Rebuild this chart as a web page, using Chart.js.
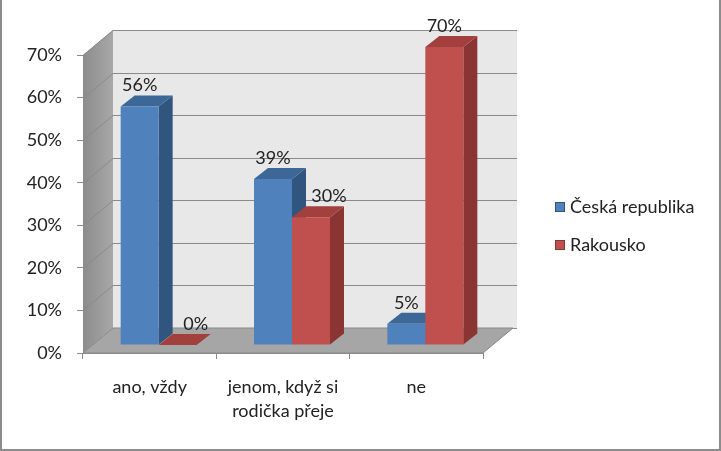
<!DOCTYPE html>
<html>
<head>
<meta charset="utf-8">
<script src="https://cdn.jsdelivr.net/npm/chart.js@4"></script>
<style>
  html, body { margin: 0; padding: 0; background: #fff; }
  #wrap { width: 721px; height: 451px; position: relative; }
</style>
</head>
<body>
<div id="wrap"><canvas id="bar-chart" width="721" height="451"></canvas></div>
<script>
// data
const categories = ["ano, vždy", ["jenom, když si", "rodička přeje"], "ne"];
const seriesNames = ["Česká republika", "Rakousko"];
const czValues = [56, 39, 5];
const atValues = [0, 30, 70];
const yMax = 70;
const yStep = 10;

const frontColors = ["#4f81bd", "#c0504d"];
const sideColors = ["#30557f", "#8a3533"];
const topColors = ["#3d6797", "#a2403d"];
const fontName = "Lato, 'Open Sans', sans-serif";
const fontSize = 18;

// 3d depth of the walls and bars
const wallDx = 30, wallDy = -25;
const barShiftX = 9, barShiftY = -8;
const barDx = 14, barDy = -11;

const wallsPlugin = {
  id: "walls",
  beforeDraw(chart) {
    const ctx = chart.ctx;
    const area = chart.chartArea;
    const y = chart.scales.y;
    ctx.save();
    ctx.fillStyle = "#fff";
    ctx.fillRect(0, 0, chart.width, chart.height);

    // back wall
    ctx.fillStyle = "#e8e8e8";
    ctx.fillRect(area.left + wallDx, area.top + wallDy, area.right - area.left + 4, area.bottom - area.top);

    // left wall
    const lg = ctx.createLinearGradient(area.left, 0, area.left + wallDx, 0);
    lg.addColorStop(0, "#8c8c8c");
    lg.addColorStop(1, "#a8a8a8");
    ctx.fillStyle = lg;
    ctx.beginPath();
    ctx.moveTo(area.left, area.top);
    ctx.lineTo(area.left + wallDx, area.top + wallDy);
    ctx.lineTo(area.left + wallDx, area.bottom + wallDy);
    ctx.lineTo(area.left, area.bottom);
    ctx.closePath();
    ctx.fill();

    // grid lines on the walls
    ctx.strokeStyle = "#8a8a8a";
    ctx.lineWidth = 1;
    for (let v = 0; v <= yMax; v += yStep) {
      const py = Math.round(y.getPixelForValue(v)) + 0.5;
      ctx.beginPath();
      ctx.moveTo(area.left, py);
      ctx.lineTo(area.left + wallDx, py + wallDy);
      ctx.lineTo(area.right + wallDx + 4, py + wallDy);
      ctx.stroke();
    }

    // floor
    ctx.fillStyle = "#a6a6a6";
    ctx.beginPath();
    ctx.moveTo(area.left, area.bottom);
    ctx.lineTo(area.right, area.bottom);
    ctx.lineTo(area.right + wallDx, area.bottom + wallDy);
    ctx.lineTo(area.left + wallDx, area.bottom + wallDy);
    ctx.closePath();
    ctx.fill();
    ctx.strokeStyle = "#8a8a8a";
    ctx.stroke();
    ctx.restore();
  },
  // side and top faces go under all the front faces
  beforeDatasetsDraw(chart) {
    const ctx = chart.ctx;
    ctx.save();
    ctx.translate(barShiftX, barShiftY);
    chart.data.datasets.forEach(function (ds, i) {
      chart.getDatasetMeta(i).data.forEach(function (bar) {
        const left = bar.x - bar.width / 2;
        const right = bar.x + bar.width / 2;
        ctx.fillStyle = sideColors[i];
        ctx.beginPath();
        ctx.moveTo(right, bar.y);
        ctx.lineTo(right + barDx, bar.y + barDy);
        ctx.lineTo(right + barDx, bar.base + barDy);
        ctx.lineTo(right, bar.base);
        ctx.closePath();
        ctx.fill();
        ctx.fillStyle = topColors[i];
        ctx.beginPath();
        ctx.moveTo(left, bar.y);
        ctx.lineTo(left + barDx, bar.y + barDy);
        ctx.lineTo(right + barDx, bar.y + barDy);
        ctx.lineTo(right, bar.y);
        ctx.closePath();
        ctx.fill();
      });
    });
    ctx.restore();
  },
  beforeDatasetDraw(chart) {
    chart.ctx.save();
    chart.ctx.translate(barShiftX, barShiftY);
  },
  afterDatasetDraw(chart) {
    chart.ctx.restore();
  },
  afterDatasetsDraw(chart) {
    const ctx = chart.ctx;
    ctx.save();
    ctx.translate(barShiftX, barShiftY);
    ctx.font = fontSize + "px " + fontName;
    ctx.fillStyle = "#222";
    ctx.textAlign = "center";
    ctx.textBaseline = "bottom";
    chart.data.datasets.forEach(function (ds, i) {
      const meta = chart.getDatasetMeta(i);
      meta.data.forEach(function (bar, j) {
        let x = bar.x;
        // label moved aside when the neighbouring bar is taller
        if (i === 1 && ds.data[j] < chart.data.datasets[0].data[j]) x += barDx + 4;
        ctx.fillText(ds.data[j] + "%", x, bar.y + barDy - 1);
      });
    });
    ctx.restore();
  },
  afterDraw(chart) {
    const ctx = chart.ctx;
    ctx.save();
    // legend
    ctx.font = fontSize + "px " + fontName;
    ctx.textBaseline = "middle";
    ctx.textAlign = "left";
    chart.data.datasets.forEach(function (ds, i) {
      const ly = 207 + i * 38;
      ctx.fillStyle = ds.backgroundColor;
      ctx.fillRect(555, ly - 5, 10, 10);
      ctx.strokeStyle = sideColors[i];
      ctx.strokeRect(555.5, ly - 4.5, 9, 9);
      ctx.fillStyle = "#222";
      ctx.fillText(ds.label, 570, ly);
    });
    // outer border
    ctx.strokeStyle = "#8c8c8c";
    ctx.lineWidth = 2;
    ctx.beginPath();
    ctx.moveTo(1, 0);
    ctx.lineTo(1, chart.height - 1);
    ctx.lineTo(chart.width - 1, chart.height - 1);
    ctx.lineTo(chart.width - 1, 0);
    ctx.stroke();
    ctx.restore();
  },
};

const contenedorBarChart = document.querySelector("#bar-chart").getContext("2d");

const barChart = new Chart(contenedorBarChart, {
  type: "bar",
  data: {
    labels: categories,
    datasets: [
      {
        label: seriesNames[0],
        data: czValues,
        backgroundColor: frontColors[0],
      },
      {
        label: seriesNames[1],
        data: atValues,
        backgroundColor: frontColors[1],
      },
    ],
  },
  options: {
    responsive: false,
    animation: false,
    events: [],
    layout: { padding: { left: 0, right: 238, top: 55, bottom: 0 } },
    datasets: {
      bar: { categoryPercentage: 0.57, barPercentage: 1 },
    },
    plugins: {
      legend: { display: false },
      tooltip: { enabled: false },
    },
    scales: {
      x: {
        grid: { offset: true, drawOnChartArea: false, tickLength: 6, color: "#8a8a8a" },
        border: { color: "#8a8a8a" },
        ticks: {
          color: "#222",
          padding: 16,
          maxRotation: 0,
          font: { family: fontName, size: fontSize, lineHeight: 1.35 },
        },
        afterFit(scale) { scale.height = 98; },
      },
      y: {
        min: 0,
        max: yMax,
        grid: { drawOnChartArea: false, tickLength: 6, color: "#8a8a8a" },
        border: { color: "#8a8a8a" },
        ticks: {
          stepSize: yStep,
          color: "#222",
          padding: 15,
          font: { family: fontName, size: fontSize },
          callback: (v) => v + "%",
        },
        afterFit(scale) { scale.width = 83; },
      },
    },
  },
  plugins: [wallsPlugin],
});
</script>
</body>
</html>
